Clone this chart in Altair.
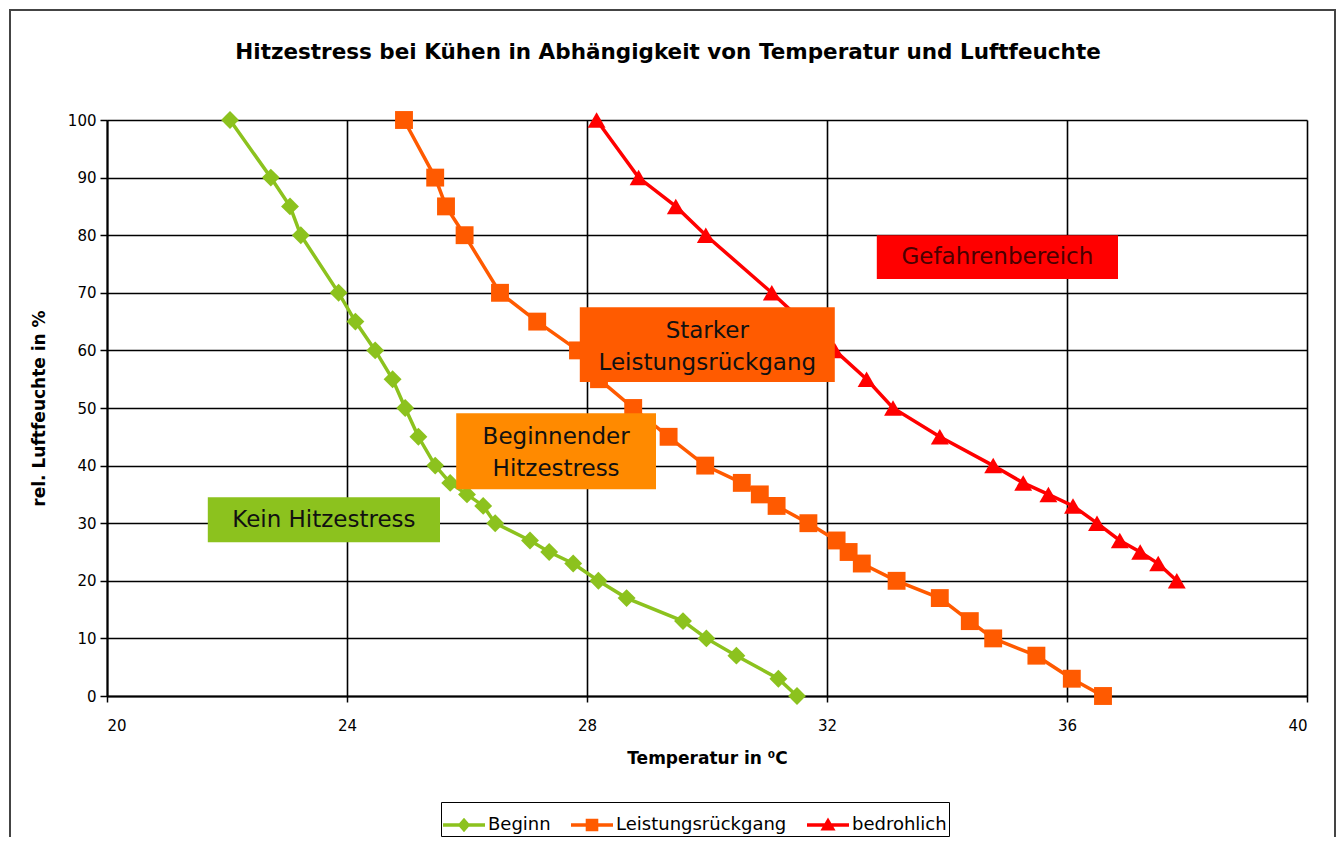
import altair as alt
import pandas as pd

# ---- data ----
series_names = ["Beginn", "Leistungsrückgang", "bedrohlich"]
series_colors = ["#8CC21E", "#FF5A00", "#FF0000"]

rh_beginn = [100, 90, 85, 80, 70, 65, 60, 55, 50, 45, 40, 37, 35, 33, 30, 27, 25, 23, 20, 17, 13, 10, 7, 3, 0]
t_beginn = [22.05, 22.73, 23.05, 23.23, 23.86, 24.14, 24.47, 24.76, 24.97, 25.19, 25.47, 25.72, 26.0,
            26.27, 26.47, 27.05, 27.37, 27.77, 28.19, 28.66, 29.6, 29.99, 30.49, 31.19, 31.5]

rh_leistung = [100, 90, 85, 80, 70, 65, 60, 55, 50, 45, 40, 37, 35, 33, 30, 27, 25, 23, 20, 17, 13, 10, 7, 3, 0]
t_leistung = [24.95, 25.47, 25.65, 25.96, 26.55, 27.17, 27.85, 28.2, 28.77, 29.36, 29.97, 30.58, 30.88,
              31.16, 31.69, 32.16, 32.36, 32.58, 33.16, 33.88, 34.38, 34.77, 35.49, 36.08, 36.6]

rh_bedrohlich = [100, 90, 85, 80, 70, 65, 60, 55, 50, 45, 40, 37, 35, 33, 30, 27, 25, 23, 20]
t_bedrohlich = [28.16, 28.86, 29.48, 29.98, 31.08, 31.6, 32.13, 32.66, 33.1, 33.88, 34.77, 35.27,
                35.69, 36.1, 36.5, 36.88, 37.22, 37.52, 37.83]

marker_shapes = ["diamond", "square", "triangle-up"]

# zone annotations (data coordinates)
zone_labels = ["Kein Hitzestress", "Beginnender\nHitzestress", "Starker\nLeistungsrückgang", "Gefahrenbereich"]
zone_lines = [1, 2, 2, 1]
zone_t1 = [21.68, 25.82, 27.88, 32.83]
zone_t2 = [25.55, 29.15, 32.13, 36.85]
zone_rh1 = [26.7, 35.9, 54.5, 72.4]
zone_rh2 = [34.5, 49.1, 67.5, 80.0]
zone_fill = ["#8CC21E", "#FF8A00", "#FF5B00", "#FF0000"]
zone_text = ["#111111", "#111111", "#111111", "#4A0000"]

x_ticks = [20, 24, 28, 32, 36, 40]
y_ticks = [0, 10, 20, 30, 40, 50, 60, 70, 80, 90, 100]

title_text = "Hitzestress bei Kühen in Abhängigkeit von Temperatur und Luftfeuchte"
FONT = "DejaVu Sans"

# ---- tables ----
rows = []
for name, col, shp, ts, rhs in zip(series_names, series_colors, marker_shapes,
                                   [t_beginn, t_leistung, t_bedrohlich],
                                   [rh_beginn, rh_leistung, rh_bedrohlich]):
    for i, (t, rh) in enumerate(zip(ts, rhs)):
        rows.append({"series": name, "col": col, "shape": shp, "T": t, "RH": rh, "idx": i})
df = pd.DataFrame(rows)

zones = pd.DataFrame({
    "label": zone_labels, "nlines": zone_lines, "t1": zone_t1, "t2": zone_t2,
    "rh1": zone_rh1, "rh2": zone_rh2, "fill": zone_fill, "tcol": zone_text,
})
zones["tc"] = (zones["t1"] + zones["t2"]) / 2
zones["rhc"] = (zones["rh1"] + zones["rh2"]) / 2

legend_df = pd.DataFrame({"series": series_names})

xscale = alt.Scale(domain=[20, 40], nice=False, zero=False)
yscale = alt.Scale(domain=[0, 100], nice=False)

xenc = alt.X("T:Q", scale=xscale, axis=alt.Axis(
    values=x_ticks, title="Temperatur in ⁰C", format="d",
    tickSize=6, labelPadding=16, titlePadding=17,
))
yenc = alt.Y("RH:Q", scale=yscale, axis=alt.Axis(
    values=y_ticks, title="rel. Luftfeuchte in %", format="d",
    tickSize=7, labelPadding=4, titlePadding=19,
))

lines = alt.Chart(df).mark_line(strokeWidth=3.5).encode(
    x=xenc, y=yenc,
    color=alt.Color("col:N", scale=None),
    detail="series:N",
    order=alt.Order("idx:Q"),
)

points = alt.Chart(df).mark_point(filled=True, opacity=1, size=320).encode(
    x="T:Q", y="RH:Q",
    color=alt.Color("col:N", scale=None),
    shape=alt.Shape("shape:N", scale=None),
)

boxes = alt.Chart(zones).mark_rect().encode(
    x="t1:Q", x2="t2:Q", y="rh1:Q", y2="rh2:Q",
    color=alt.Color("fill:N", scale=None),
)

text_one = alt.Chart(zones).transform_filter("datum.nlines == 1").mark_text(
    font=FONT, fontSize=23, baseline="middle", align="center"
).encode(
    x="tc:Q", y="rhc:Q", text="label:N",
    color=alt.Color("tcol:N", scale=None),
)
text_two = alt.Chart(zones).transform_filter("datum.nlines == 2").mark_text(
    font=FONT, fontSize=23, lineBreak="\n", lineHeight=32, baseline="middle", align="center", dy=-14
).encode(
    x="tc:Q", y="rhc:Q", text="label:N",
    color=alt.Color("tcol:N", scale=None),
)

legend_paths = [
    "M-1,-0.08H1V0.08H-1Z M0,-0.34L0.3,0L0,0.34L-0.3,0Z",
    "M-1,-0.08H1V0.08H-1Z M-0.3,-0.3H0.3V0.3H-0.3Z",
    "M-1,-0.08H1V0.08H-1Z M0,-0.36L0.36,0.26H-0.36Z",
]
leg = alt.Legend(
    title=None, orient="none", legendX=334, legendY=682, direction="horizontal",
    labelFont=FONT, labelFontSize=18, labelColor="black", labelOffset=3, labelLimit=0,
    symbolSize=1764, symbolStrokeWidth=0, columnPadding=20,
    strokeColor="black", fillColor="white", padding=2,
)
legend_layer = alt.Chart(legend_df).mark_point(filled=True, opacity=1).encode(
    x=alt.value(-3000), y=alt.value(-3000),
    color=alt.Color("series:N", scale=alt.Scale(domain=series_names, range=series_colors), legend=leg),
    shape=alt.Shape("series:N", scale=alt.Scale(domain=series_names, range=legend_paths), legend=leg),
)

frame = alt.Chart(pd.DataFrame({"f": [0]})).mark_rect(
    fillOpacity=0, stroke="#444444", strokeWidth=2
).encode(
    x=alt.value(-97), x2=alt.value(1228), y=alt.value(-110), y2=alt.value(760)
)

title = alt.Chart(pd.DataFrame({"t": [title_text]})).mark_text(
    font=FONT, fontSize=21.5, fontWeight="bold", color="black", align="center", baseline="middle"
).encode(
    text="t:N", x=alt.value(561), y=alt.value(-67)
)

chart = alt.layer(frame, lines, points, boxes, text_one, text_two, legend_layer, title).properties(
    width=1200, height=576,
    autosize=alt.AutoSizeParams(type="none"),
    padding={"left": 99, "top": 112, "right": 29, "bottom": 141},
).configure_axis(
    labelFont=FONT, labelFontSize=15, labelColor="black",
    titleFont=FONT, titleFontSize=17, titleFontWeight="bold", titleColor="black",
    grid=True, gridColor="black", gridWidth=1.6, gridOpacity=1,
    domainColor="black", domainWidth=2, tickColor="black", tickWidth=1.5,
).configure_view(stroke=None)

chart.save("out.html", embed_options={"renderer": "svg", "actions": False})
